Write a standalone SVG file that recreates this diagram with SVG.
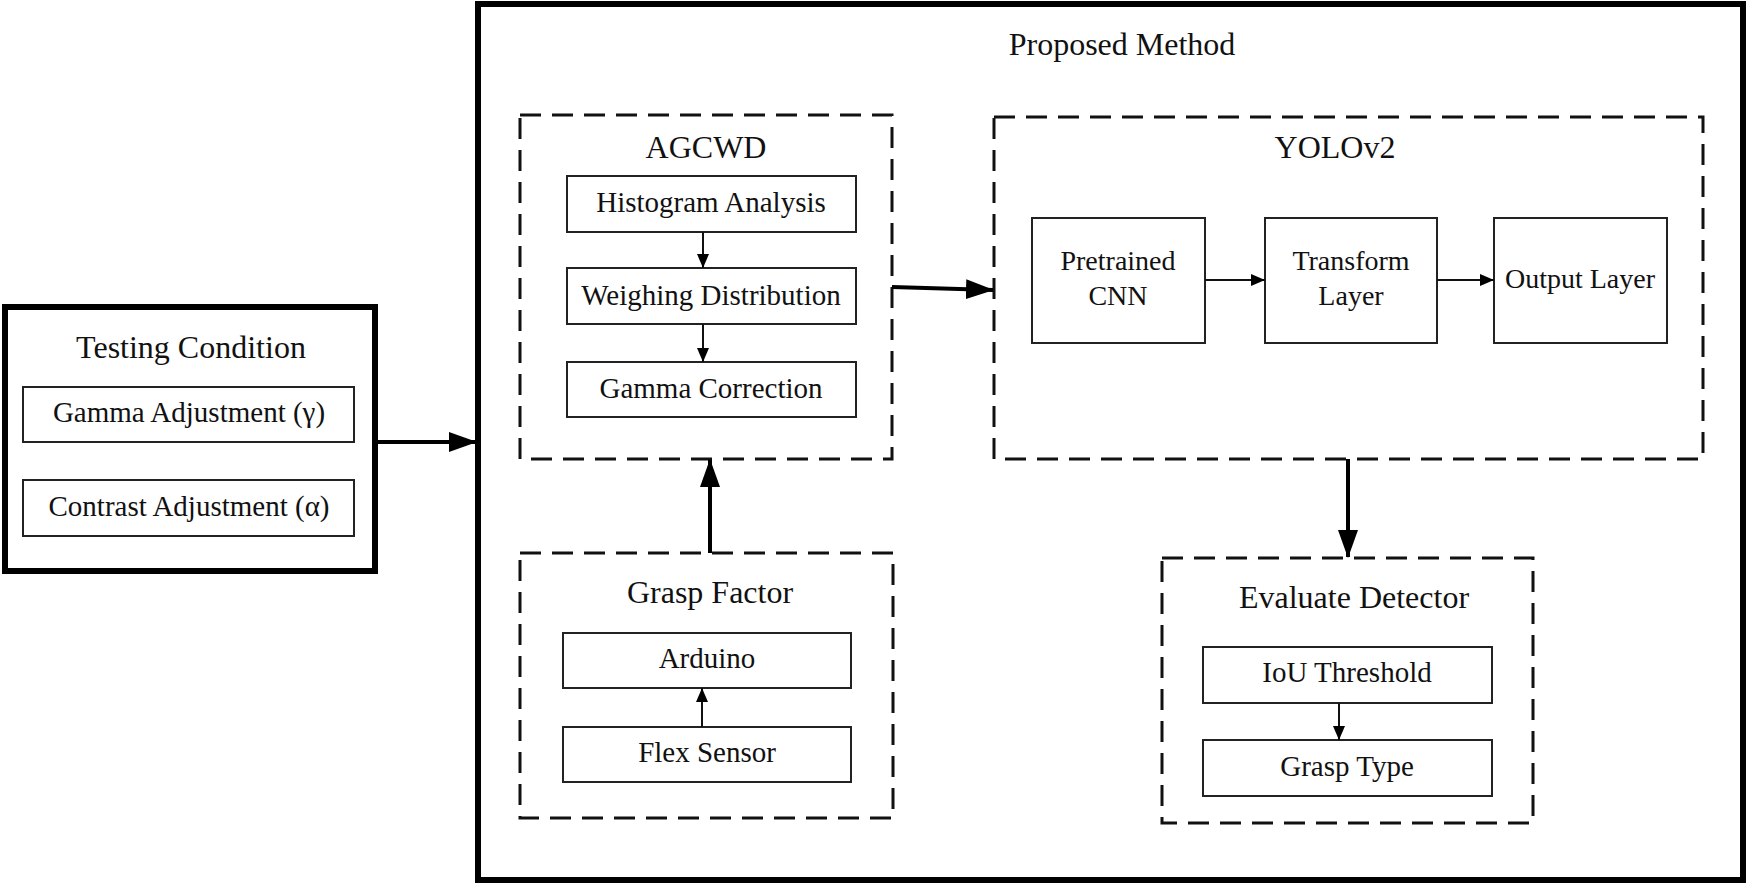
<svg xmlns="http://www.w3.org/2000/svg" width="1748" height="885" viewBox="0 0 1748 885">
<defs>
<style>
text{font-family:"Liberation Serif","Times New Roman",serif;fill:#111;text-anchor:middle}
.t{font-size:32px}
.b{font-size:29px}
.y{font-size:28px}
.box{fill:#fff;stroke:#222;stroke-width:2}
.dash{fill:none;stroke:#111;stroke-width:3;stroke-dasharray:21 11}
.thick{fill:none;stroke:#000;stroke-width:6}
.ca{fill:none;stroke:#000;stroke-width:4}
.cs{fill:none;stroke:#111;stroke-width:2}
</style>
<marker id="big" markerUnits="userSpaceOnUse" markerWidth="28" markerHeight="20" refX="27" refY="10" orient="auto">
<path d="M0,0 L28,10 L0,20 Z" fill="#000"/>
</marker>
<marker id="sm" markerUnits="userSpaceOnUse" markerWidth="14" markerHeight="12" refX="14" refY="6" orient="auto">
<path d="M0,0 L14,6 L0,12 Z" fill="#000"/>
</marker>
</defs>
<rect width="1748" height="885" fill="#fff"/>

<g id="testing-condition">
<rect class="thick" x="5" y="307" width="370" height="264"/>
<text class="t" x="191" y="358">Testing Condition</text>
<rect class="box" x="23" y="387" width="331" height="55"/>
<text class="b" x="189" y="422">Gamma Adjustment (γ)</text>
<rect class="box" x="23" y="480" width="331" height="56"/>
<text class="b" x="189" y="516">Contrast Adjustment (α)</text>
</g>

<g id="proposed-method">
<rect class="thick" x="478" y="4" width="1265" height="876"/>
<text class="t" x="1122" y="55">Proposed Method</text>
</g>

<g id="agcwd">
<rect class="dash" x="520" y="115" width="372" height="344"/>
<text class="t" x="706" y="158">AGCWD</text>
<rect class="box" x="567" y="176" width="289" height="56"/>
<text class="b" x="711" y="212">Histogram Analysis</text>
<rect class="box" x="567" y="268" width="289" height="56"/>
<text class="b" x="711" y="305">Weighing Distribution</text>
<rect class="box" x="567" y="362" width="289" height="55"/>
<text class="b" x="711" y="398">Gamma Correction</text>
</g>

<g id="yolov2">
<rect class="dash" x="994" y="117" width="709" height="342"/>
<text class="t" x="1335" y="158">YOLOv2</text>
<rect class="box" x="1032" y="218" width="173" height="125"/>
<text class="y" x="1118" y="270">Pretrained</text>
<text class="y" x="1118" y="305">CNN</text>
<rect class="box" x="1265" y="218" width="172" height="125"/>
<text class="y" x="1351" y="270">Transform</text>
<text class="y" x="1351" y="305">Layer</text>
<rect class="box" x="1494" y="218" width="173" height="125"/>
<text class="y" x="1580" y="288">Output Layer</text>
</g>

<g id="grasp-factor">
<rect class="dash" x="520" y="553" width="373" height="265"/>
<text class="t" x="710" y="603">Grasp Factor</text>
<rect class="box" x="563" y="633" width="288" height="55"/>
<text class="b" x="707" y="668">Arduino</text>
<rect class="box" x="563" y="727" width="288" height="55"/>
<text class="b" x="707" y="762">Flex Sensor</text>
</g>

<g id="evaluate-detector">
<rect class="dash" x="1162" y="558" width="371" height="265"/>
<text class="t" x="1354" y="608">Evaluate Detector</text>
<rect class="box" x="1203" y="647" width="289" height="56"/>
<text class="b" x="1347" y="682">IoU Threshold</text>
<rect class="box" x="1203" y="740" width="289" height="56"/>
<text class="b" x="1347" y="776">Grasp Type</text>
</g>

<g id="connectors">
<line class="ca" x1="378" y1="442" x2="476" y2="442" marker-end="url(#big)"/>
<line class="ca" x1="892" y1="287" x2="993" y2="290" marker-end="url(#big)"/>
<line class="ca" x1="710" y1="553" x2="710" y2="460" marker-end="url(#big)"/>
<line class="ca" x1="1348" y1="459" x2="1348" y2="557" marker-end="url(#big)"/>
<line class="cs" x1="703" y1="232" x2="703" y2="268" marker-end="url(#sm)"/>
<line class="cs" x1="703" y1="324" x2="703" y2="362" marker-end="url(#sm)"/>
<line class="cs" x1="702" y1="727" x2="702" y2="688" marker-end="url(#sm)"/>
<line class="cs" x1="1339" y1="703" x2="1339" y2="740" marker-end="url(#sm)"/>
<line class="cs" x1="1205" y1="280" x2="1265" y2="280" marker-end="url(#sm)"/>
<line class="cs" x1="1437" y1="280" x2="1494" y2="280" marker-end="url(#sm)"/>
</g>
</svg>
